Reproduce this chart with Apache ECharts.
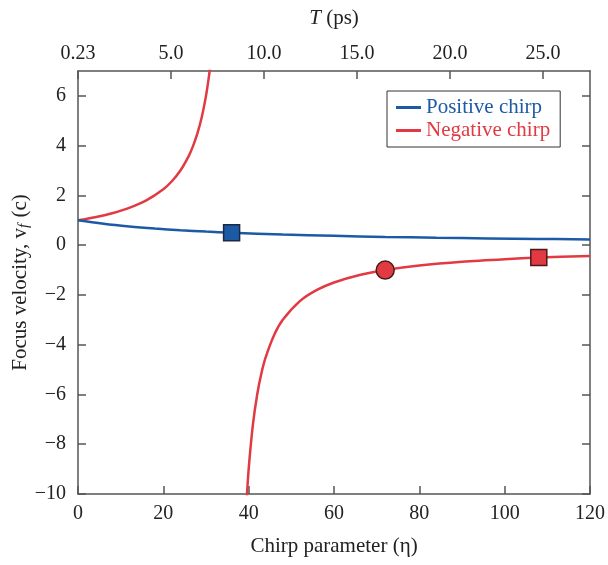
<!DOCTYPE html>
<html><head><meta charset="utf-8">
<script src="https://cdn.jsdelivr.net/npm/echarts@6/dist/echarts.min.js"></script>
<style>html,body{margin:0;padding:0;background:#fff}#c{width:608px;height:565px}</style>
</head><body><div id="c"></div>
<script>
// Positive chirp curve (eta, v_f)
const posEta = [0, 6, 12, 18, 24, 30, 36, 48, 60, 72, 84, 96, 108, 120];
const posV   = [1, 0.857, 0.75, 0.667, 0.6, 0.545, 0.5, 0.429, 0.375, 0.333, 0.3, 0.273, 0.25, 0.231];
// Negative chirp, left branch
const negLeftEta = [0, 4, 8, 12, 16, 20, 22, 24, 26, 27, 28, 29, 30, 30.5, 31, 31.5];
const negLeftV   = [1, 1.125, 1.286, 1.5, 1.8, 2.25, 2.57, 3, 3.6, 4, 4.5, 5.14, 6, 6.55, 7.2, 8];
// Negative chirp, right branch
const negRightEta = [39.4, 40, 41, 42, 43, 44, 46, 48, 52, 56, 60, 66, 72, 80, 90, 100, 108, 120];
const negRightV   = [-10.6, -9, -7.2, -6, -5.14, -4.5, -3.6, -3, -2.25, -1.8, -1.5, -1.2, -1, -0.82, -0.667, -0.563, -0.5, -0.43];
// Markers
const blueSquare = [36, 0.5];
const redCircle = [72, -1];
const redSquare = [108, -0.5];
// Top axis (T in ps) ticks: positions in eta and labels
const topTickEta = [0, 21.8, 43.6, 65.4, 87.2, 109.0];
const topTickLabels = ['0.23', '5.0', '10.0', '15.0', '20.0', '25.0'];
const yTicks = [-10, -8, -6, -4, -2, 0, 2, 4, 6];

const BLUE = '#1d5aa6', RED = '#e23a42', AX = '#555', TXT = '#222';
const FONT = 'Liberation Serif';
const zip = (a, b) => a.map((x, i) => [x, b[i]]);
const fmtNum = v => String(v).replace('-', '\u2212');

const axisCommon = {
  axisLine: {show: true, onZero: false, lineStyle: {color: AX, width: 1.5}},
  axisTick: {show: true, inside: true, length: 8, lineStyle: {color: AX, width: 1.5}},
  splitLine: {show: false},
  axisLabel: {color: TXT, fontFamily: FONT, fontSize: 20}
};

const chart = echarts.init(document.getElementById('c'), null, {renderer: 'canvas'});
chart.setOption({
  animation: false,
  textStyle: {fontFamily: FONT},
  grid: {left: 78, right: 18, top: 71, bottom: 71, containLabel: false, outerBoundsMode: 'none'},
  legend: {
    left: 387, top: 91, orient: 'vertical',
    borderColor: '#333', borderWidth: 1, padding: [6, 10, 6, 9], itemGap: 2,
    itemWidth: 25, itemHeight: 3,
    data: [
      {name: 'Positive chirp', icon: 'rect', textStyle: {color: BLUE}},
      {name: 'Negative chirp', icon: 'rect', textStyle: {color: RED}}
    ],
    textStyle: {fontFamily: FONT, fontSize: 21}
  },
  xAxis: [
    Object.assign({}, axisCommon, {
      type: 'value', position: 'bottom', min: 0, max: 120, interval: 20,
      axisLabel: Object.assign({}, axisCommon.axisLabel, {margin: 10}),
      name: 'Chirp parameter (\u03b7)', nameLocation: 'middle', nameGap: 42,
      nameTextStyle: {color: TXT, fontFamily: FONT, fontSize: 21}
    }),
    Object.assign({}, axisCommon, {
      type: 'value', position: 'top', min: 0, max: 120,
      axisTick: Object.assign({}, axisCommon.axisTick, {customValues: topTickEta}),
      axisLabel: Object.assign({}, axisCommon.axisLabel, {
        customValues: topTickEta, margin: 7,
        formatter: v => { const i = topTickEta.indexOf(v); return i >= 0 ? topTickLabels[i] : ''; }
      }),
      name: '{i|T} (ps)', nameLocation: 'middle', nameGap: 42,
      nameTextStyle: {color: TXT, fontFamily: FONT, fontSize: 21,
        rich: {i: {fontStyle: 'italic', fontFamily: FONT, fontSize: 21, color: TXT}}}
    })
  ],
  yAxis: [
    Object.assign({}, axisCommon, {
      type: 'value', position: 'left', min: -10, max: 7, interval: 2,
      axisTick: Object.assign({}, axisCommon.axisTick, {customValues: yTicks}),
      axisLabel: Object.assign({}, axisCommon.axisLabel, {customValues: yTicks, margin: 12, formatter: fmtNum}),
      name: 'Focus velocity, v{s|f} (c)', nameLocation: 'middle', nameGap: 46, nameRotate: 90,
      nameMoveOverlap: false,
      nameTextStyle: {color: TXT, fontFamily: FONT, fontSize: 21,
        rich: {s: {fontStyle: 'italic', fontFamily: FONT, fontSize: 15, color: TXT, verticalAlign: 'bottom', padding: [8, 1, 0, 0]}}}
    }),
    Object.assign({}, axisCommon, {
      type: 'value', position: 'right', min: -10, max: 7,
      axisTick: Object.assign({}, axisCommon.axisTick, {customValues: yTicks}),
      axisLabel: {show: false}
    })
  ],
  series: [
    {name: 'Positive chirp', type: 'line', data: zip(posEta, posV), smooth: 0.4, symbol: 'none',
     lineStyle: {color: BLUE, width: 2.5}, itemStyle: {color: BLUE}, clip: true, z: 3},
    {name: 'Negative chirp', type: 'line', data: zip(negLeftEta, negLeftV), smooth: 0.3, symbol: 'none',
     lineStyle: {color: RED, width: 2.5}, itemStyle: {color: RED}, clip: true, z: 2},
    {name: 'Negative chirp', type: 'line', data: zip(negRightEta, negRightV), smooth: 0.3, symbol: 'none',
     lineStyle: {color: RED, width: 2.5}, itemStyle: {color: RED}, clip: true, z: 2},
    {name: 'markers-blue', type: 'scatter', data: [blueSquare], symbol: 'rect', symbolSize: 16,
     itemStyle: {color: BLUE, opacity: 1, borderColor: '#1a2a44', borderWidth: 1.5}, z: 5},
    {name: 'markers-red-circle', type: 'scatter', data: [redCircle], symbol: 'circle', symbolSize: 18,
     itemStyle: {color: RED, opacity: 1, borderColor: '#4a1a1a', borderWidth: 1.5}, z: 5},
    {name: 'markers-red-square', type: 'scatter', data: [redSquare], symbol: 'rect', symbolSize: 16,
     itemStyle: {color: RED, opacity: 1, borderColor: '#4a1a1a', borderWidth: 1.5}, z: 5}
  ]
});
</script></body></html>
